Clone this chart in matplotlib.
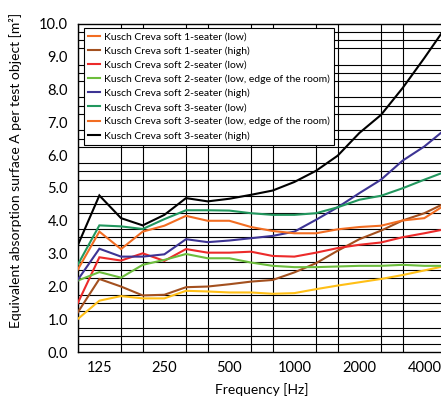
import matplotlib
matplotlib.use("Agg")
import matplotlib.pyplot as plt
from matplotlib.lines import Line2D
import numpy as np

plt.rcParams['font.family'] = ['Lato', 'DejaVu Sans']

# third-octave bands, Hz
bands = [100, 125, 160, 200, 250, 315, 400, 500, 630, 800, 1000,
         1250, 1600, 2000, 2500, 3150, 4000, 5000]
tick_labels = ['125', '250', '500', '1000', '2000', '4000']

one_low = [1.01, 1.57, 1.71, 1.64, 1.64, 1.87, 1.85, 1.82, 1.82, 1.78, 1.80,
           1.92, 2.03, 2.13, 2.23, 2.35, 2.49, 2.63]
one_high = [1.21, 2.23, 2.00, 1.73, 1.75, 1.98, 2.00, 2.07, 2.15, 2.20, 2.43,
            2.71, 3.09, 3.44, 3.70, 4.01, 4.23, 4.55]
two_low = [1.49, 2.89, 2.79, 3.01, 2.78, 3.14, 3.03, 3.03, 3.06, 2.93, 2.91,
           3.03, 3.17, 3.27, 3.34, 3.50, 3.62, 3.75]
two_low_edge = [2.18, 2.44, 2.27, 2.66, 2.81, 2.99, 2.86, 2.86, 2.73, 2.63, 2.59,
                2.59, 2.61, 2.63, 2.63, 2.66, 2.63, 2.63]
two_high = [2.20, 3.15, 2.91, 2.91, 2.98, 3.44, 3.35, 3.40, 3.47, 3.54, 3.67,
            4.03, 4.41, 4.84, 5.25, 5.83, 6.26, 6.80]
three_low = [2.66, 3.86, 3.83, 3.75, 4.05, 4.32, 4.32, 4.31, 4.23, 4.18, 4.18,
             4.23, 4.41, 4.64, 4.76, 4.99, 5.25, 5.50]
three_low_edge = [2.51, 3.67, 3.14, 3.67, 3.85, 4.15, 4.00, 4.00, 3.81, 3.69, 3.62,
                  3.62, 3.74, 3.81, 3.85, 4.01, 4.08, 4.50]
three_high = [3.25, 4.77, 4.08, 3.86, 4.18, 4.69, 4.59, 4.67, 4.79, 4.92, 5.18,
              5.52, 5.98, 6.67, 7.22, 8.04, 8.95, 9.90]

labels = ['Kusch Creva soft 1-seater (low)',
          'Kusch Creva soft 1-seater (high)',
          'Kusch Creva soft 2-seater (low)',
          'Kusch Creva soft 2-seater (low, edge of the room)',
          'Kusch Creva soft 2-seater (high)',
          'Kusch Creva soft 3-seater (low)',
          'Kusch Creva soft 3-seater (low, edge of the room)',
          'Kusch Creva soft 3-seater (high)']
series = [one_low, one_high, two_low, two_low_edge, two_high,
          three_low, three_low_edge, three_high]
line_colors = ['#ffbf16', '#a3501f', '#ec2a2a', '#6cbd3c', '#3d3494',
               '#22975e', '#f26d22', '#000000']
# the legend swatch for the first entry is orange in the original
legend_colors = ['#f26d22', '#a3501f', '#ec2a2a', '#6cbd3c', '#3d3494',
                 '#22975e', '#f26d22', '#000000']

fig = plt.figure(figsize=(4.41, 4.01), dpi=100)
ax = fig.add_axes([77.7 / 441, 48.7 / 401, (446 - 77.7) / 441, (352.3 - 23.5) / 401])

x = np.arange(len(bands))
for vals, c in zip(series, line_colors):
    ax.plot(x, vals, color=c, lw=1.5, solid_joinstyle='miter', zorder=3)

ax.set_xlim(0, len(bands) - 1)
ax.set_ylim(0, 10)

# grid: every band vertically, every 0.25 horizontally
ax.set_xticks(x, minor=True)
ax.set_yticks(np.arange(0, 10.01, 0.25), minor=True)
ax.grid(which='minor', color='black', lw=0.8, zorder=1)
ax.set_xticks([bands.index(int(t)) for t in tick_labels])
ax.set_xticklabels(tick_labels)
ax.set_yticks(np.arange(0, 11, 1))
ax.set_yticklabels([f'{v:.1f}' for v in range(11)])
ax.tick_params(which='both', length=0)
ax.tick_params(axis='y', pad=7, labelsize=10.5)
ax.tick_params(axis='x', pad=6, labelsize=10.5)
for s in ax.spines.values():
    s.set_color('black')
    s.set_linewidth(1.0)

fig.text(0.5 * (77.7 + 446) / 441, 1 - 390 / 401, 'Frequency [Hz]',
         ha='center', va='center', fontsize=10)
fig.text(16 / 441, 1 - 170 / 401,
         'Equivalent absorption surface A per test object [m²]',
         rotation=90, ha='center', va='center', fontsize=10)

handles = [Line2D([], [], color=c, lw=1.5) for c in legend_colors]
leg = ax.legend(handles, labels, loc='upper left',
                bbox_to_anchor=(84 / 441, 1 - 28 / 401),
                bbox_transform=fig.transFigure, borderaxespad=0,
                fontsize=7.5, handlelength=1.15, handletextpad=0.4,
                labelspacing=0.45, borderpad=0.4, fancybox=False,
                framealpha=1, edgecolor='black')
leg.get_frame().set_linewidth(0.8)
leg.set_zorder(5)

fig.savefig('out.png', dpi=100)
